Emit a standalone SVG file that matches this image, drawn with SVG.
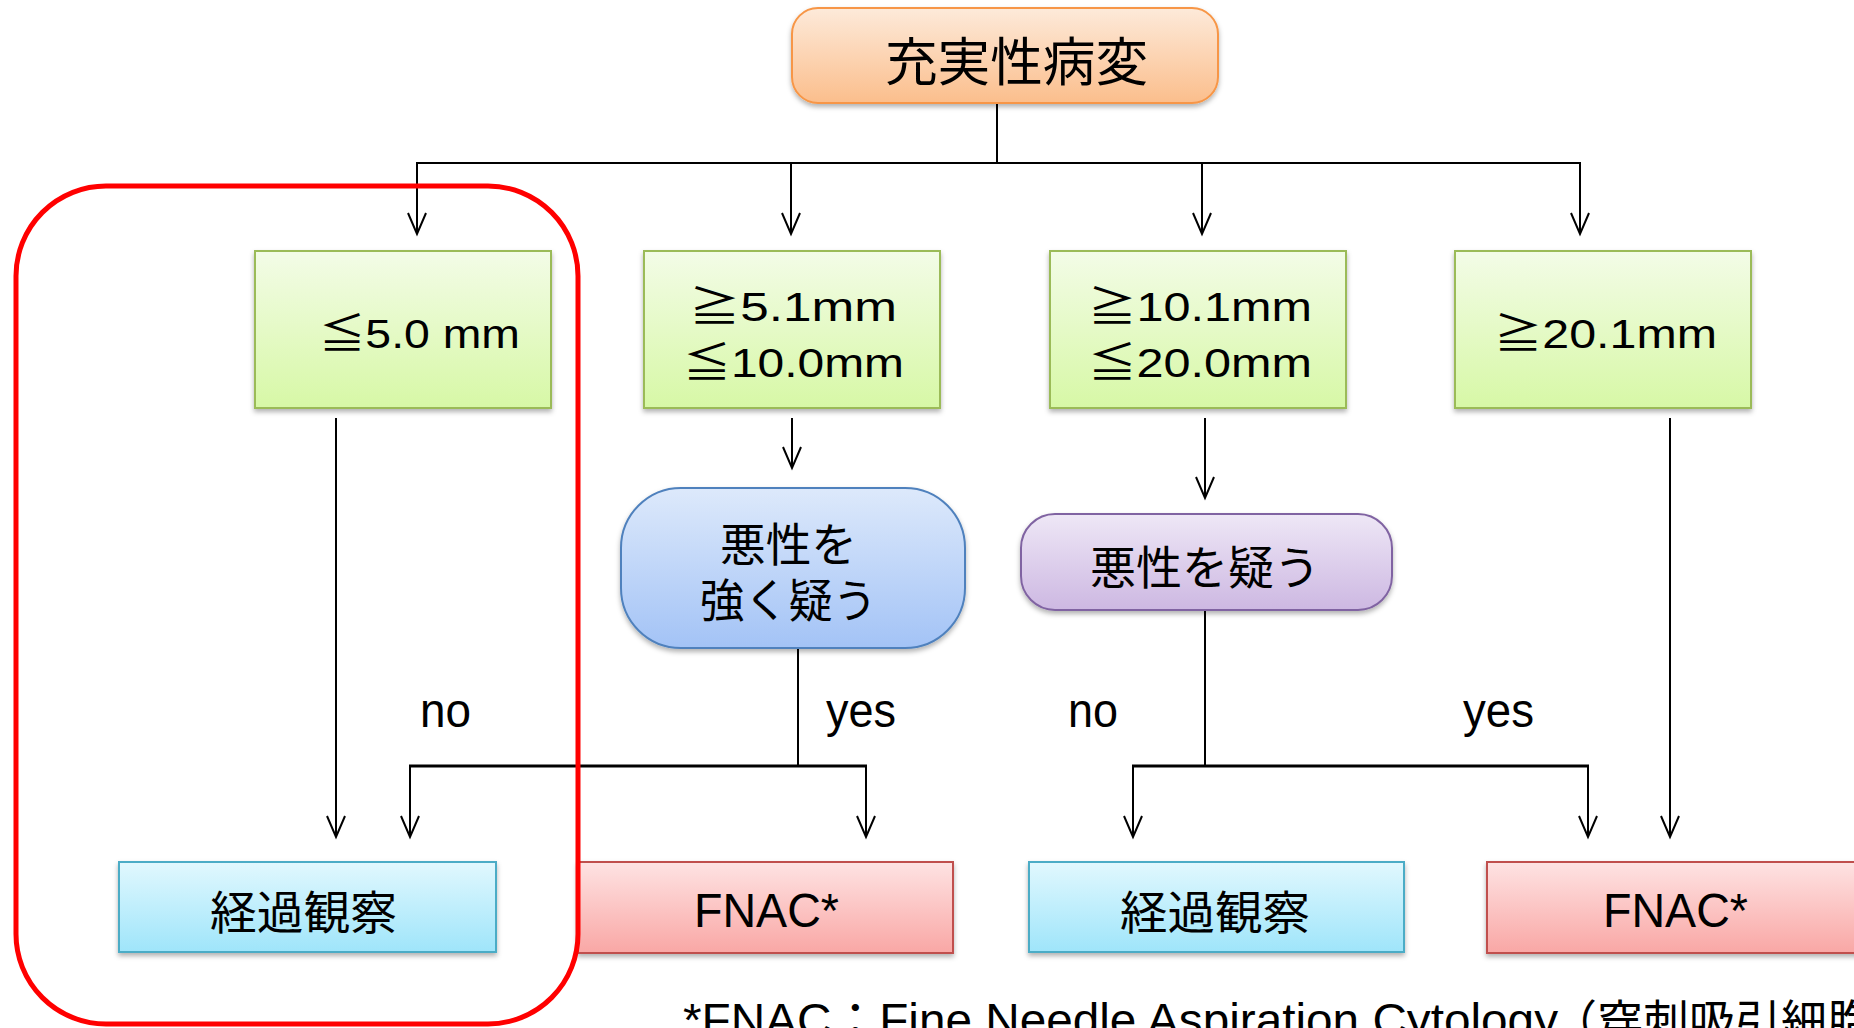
<svg xmlns="http://www.w3.org/2000/svg" width="1854" height="1028" viewBox="0 0 1854 1028">
<defs>
<linearGradient id="gOrange" x1="0" y1="0" x2="0" y2="1"><stop offset="0" stop-color="#FDEADA"/><stop offset="1" stop-color="#FBBE8C"/></linearGradient>
<linearGradient id="gGreen" x1="0" y1="0" x2="0" y2="1"><stop offset="0" stop-color="#F3FCE7"/><stop offset="1" stop-color="#D7F8A6"/></linearGradient>
<linearGradient id="gBlue" x1="0" y1="0" x2="0" y2="1"><stop offset="0" stop-color="#DDE9FB"/><stop offset="1" stop-color="#A3C3F6"/></linearGradient>
<linearGradient id="gPurple" x1="0" y1="0" x2="0" y2="1"><stop offset="0" stop-color="#EEE7F6"/><stop offset="1" stop-color="#CDB8E2"/></linearGradient>
<linearGradient id="gCyan" x1="0" y1="0" x2="0" y2="1"><stop offset="0" stop-color="#E1F8FE"/><stop offset="1" stop-color="#9FE5FA"/></linearGradient>
<linearGradient id="gPink" x1="0" y1="0" x2="0" y2="1"><stop offset="0" stop-color="#FEE3E3"/><stop offset="1" stop-color="#F9A7A5"/></linearGradient>
<filter id="sh" x="-10%" y="-10%" width="120%" height="130%"><feDropShadow dx="0" dy="3" stdDeviation="2.5" flood-color="#000" flood-opacity="0.3"/></filter>
<marker id="arr" markerUnits="userSpaceOnUse" markerWidth="30" markerHeight="30" viewBox="-25 -15 30 30" refX="0" refY="0" orient="auto" overflow="visible">
<path d="M-21,-9 L0,0 L-21,9" fill="none" stroke="#000" stroke-width="2"/>
</marker>
</defs>
<style>
.t{font-family:"Liberation Sans","Noto Sans CJK JP",sans-serif;fill:#000}
.j{font-family:"Noto Sans CJK JP","Noto Sans CJK SC",sans-serif;fill:#000}
.c{fill:none;stroke:#000;stroke-width:2}
.ca{fill:none;stroke:#000;stroke-width:2;marker-end:url(#arr)}
.h{fill:none;stroke:#000;stroke-width:3}
.green{fill:url(#gGreen);stroke:#9BBB59;stroke-width:2;filter:url(#sh)}
.cyan{fill:url(#gCyan);stroke:#4BACC6;stroke-width:2;filter:url(#sh)}
.pink{fill:url(#gPink);stroke:#C0504D;stroke-width:2;filter:url(#sh)}
</style>
<rect width="1854" height="1028" fill="#fff"/>

<g id="connectors">
<path class="c" d="M997,104 V163"/>
<path class="c" d="M416,163 H1581"/>
<path class="ca" d="M417,163 V234"/>
<path class="ca" d="M791,163 V234"/>
<path class="ca" d="M1202,163 V234"/>
<path class="ca" d="M1580,163 V234"/>
<path class="ca" d="M336,418 V837"/>
<path class="ca" d="M792,418 V468"/>
<path class="ca" d="M1205,418 V498"/>
<path class="c" d="M798,648 V766"/>
<path class="h" d="M409,766 H867"/>
<path class="ca" d="M410,766 V837"/>
<path class="ca" d="M866,766 V837"/>
<path class="c" d="M1205,610 V766"/>
<path class="h" d="M1132,766 H1589"/>
<path class="ca" d="M1133,766 V837"/>
<path class="ca" d="M1588,766 V837"/>
<path class="ca" d="M1670,418 V837"/>
</g>

<g id="node-top">
<rect x="792" y="8" width="426" height="95" rx="26" fill="url(#gOrange)" stroke="#F79646" stroke-width="2" filter="url(#sh)"/>
<text class="j" x="885" y="81" font-size="52" textLength="263" lengthAdjust="spacingAndGlyphs">充実性病変</text>
</g>

<g id="node-le5">
<rect class="green" x="255" y="251" width="296" height="157"/>
<text class="t" x="319" y="348" font-size="41" textLength="201" lengthAdjust="spacingAndGlyphs">≦5.0 mm</text>
</g>
<g id="node-5to10">
<rect class="green" x="644" y="251" width="296" height="157"/>
<text class="t" x="689" y="321" font-size="41" textLength="208" lengthAdjust="spacingAndGlyphs">≧5.1mm</text>
<text class="t" x="683" y="377" font-size="41" textLength="221" lengthAdjust="spacingAndGlyphs">≦10.0mm</text>
</g>
<g id="node-10to20">
<rect class="green" x="1050" y="251" width="296" height="157"/>
<text class="t" x="1088" y="321" font-size="41" textLength="224" lengthAdjust="spacingAndGlyphs">≧10.1mm</text>
<text class="t" x="1088" y="377" font-size="41" textLength="224" lengthAdjust="spacingAndGlyphs">≦20.0mm</text>
</g>
<g id="node-ge20">
<rect class="green" x="1455" y="251" width="296" height="157"/>
<text class="t" x="1494" y="348" font-size="41" textLength="223" lengthAdjust="spacingAndGlyphs">≧20.1mm</text>
</g>

<g id="node-strong">
<rect x="621" y="488" width="344" height="160" rx="60" fill="url(#gBlue)" stroke="#4F81BD" stroke-width="2" filter="url(#sh)"/>
<text class="j" x="720" y="561" font-size="46" textLength="137" lengthAdjust="spacingAndGlyphs">悪性を</text>
<text class="j" x="700" y="617" font-size="46" textLength="177" lengthAdjust="spacingAndGlyphs">強く疑う</text>
</g>
<g id="node-suspect">
<rect x="1021" y="514" width="371" height="96" rx="34" fill="url(#gPurple)" stroke="#8064A2" stroke-width="2" filter="url(#sh)"/>
<text class="j" x="1090" y="584" font-size="46" textLength="230" lengthAdjust="spacingAndGlyphs">悪性を疑う</text>
</g>

<g id="labels">
<text class="t" x="420" y="727" font-size="48" textLength="51" lengthAdjust="spacingAndGlyphs">no</text>
<text class="t" x="826" y="727" font-size="48" textLength="70" lengthAdjust="spacingAndGlyphs">yes</text>
<text class="t" x="1068" y="727" font-size="48" textLength="50" lengthAdjust="spacingAndGlyphs">no</text>
<text class="t" x="1463" y="727" font-size="48" textLength="71" lengthAdjust="spacingAndGlyphs">yes</text>
</g>

<g id="node-obs1">
<rect class="cyan" x="119" y="862" width="377" height="90"/>
<text class="j" x="210" y="929" font-size="46" textLength="187" lengthAdjust="spacingAndGlyphs">経過観察</text>
</g>
<g id="node-fnac1">
<rect class="pink" x="578" y="862" width="375" height="91"/>
<text class="t" x="694" y="927" font-size="48" textLength="145" lengthAdjust="spacingAndGlyphs">FNAC*</text>
</g>
<g id="node-obs2">
<rect class="cyan" x="1029" y="862" width="375" height="90"/>
<text class="j" x="1120" y="929" font-size="46" textLength="190" lengthAdjust="spacingAndGlyphs">経過観察</text>
</g>
<g id="node-fnac2">
<rect class="pink" x="1487" y="862" width="390" height="91"/>
<text class="t" x="1603" y="927" font-size="48" textLength="145" lengthAdjust="spacingAndGlyphs">FNAC*</text>
</g>

<g id="footnote">
<text class="t" x="683" y="1036" font-size="46" textLength="875" lengthAdjust="spacingAndGlyphs">*FNAC：Fine Needle Aspiration Cytology</text>
<text class="j" x="1551" y="1038" font-size="46">（穿刺吸引細胞</text>
</g>

<g id="highlight">
<rect x="16" y="186" width="562" height="838" rx="90" fill="none" stroke="#FF0000" stroke-width="5"/>
</g>
</svg>
